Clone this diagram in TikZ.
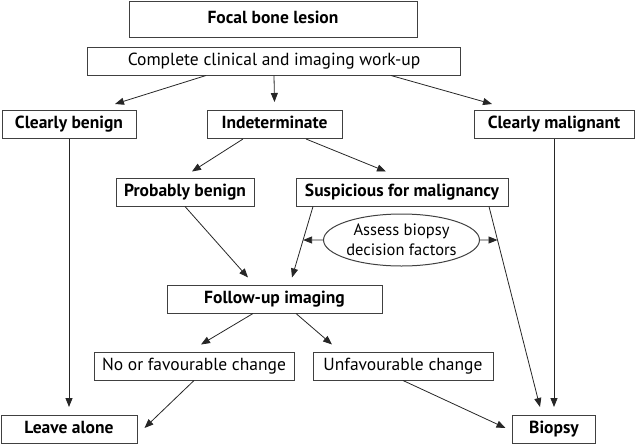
\documentclass[tikz,border=0pt]{standalone}
\usepackage{fontspec}
\setmainfont{PT Sans}
\usepackage{tikz}
\usetikzlibrary{arrows.meta,shapes.geometric}

\begin{document}
\begin{tikzpicture}[
  x=1pt, y=-1pt,
  mybox/.style={
    draw=black!75,
    line width=1pt,
    rectangle,
    inner sep=0pt,
    minimum height=28pt,
    text height=12pt,
    text depth=3.5pt,
    text centered,
    font=\fontsize{17.5}{20}\selectfont
    },
  myboldbox/.style={
    mybox,
    font=\fontsize{17.5}{20}\selectfont\bfseries
    },
  myarrow/.style={
    draw=black!85,
    line width=0.8pt,
    -{Triangle[length=9pt,width=7pt]}
    }
]
\useasboundingbox (0,0) rectangle (635,445);

\node[myboldbox, minimum width=288pt, minimum height=36pt] (focal) at (273,19) {Focal bone lesion};
\node[mybox, minimum width=373pt] (workup) at (274,61) {Complete clinical and imaging work-up};

\node[myboldbox, minimum width=134pt] (benign) at (69,124.5) {Clearly benign};
\node[myboldbox, minimum width=135pt] (indet) at (274.5,124.5) {Indeterminate};
\node[myboldbox, minimum width=160pt] (malig) at (554,124.5) {Clearly malignant};

\node[myboldbox, minimum width=138pt] (probben) at (185,192) {Probably benign};
\node[myboldbox, minimum width=212pt] (suspic) at (402,192) {Suspicious for malignancy};

\node[draw=black!75, line width=1pt, ellipse, inner sep=0pt,
  minimum width=143pt, minimum height=52pt, align=center,
  font=\fontsize{16.5}{20}\selectfont] (assess) at (401.5,240) {Assess biopsy\\decision factors};

\node[myboldbox, minimum width=215pt] (followup) at (274.5,299) {Follow-up imaging};

\node[mybox, minimum width=200pt] (nochange) at (194,366) {No or favourable change};
\node[mybox, minimum width=180pt] (unfav) at (403,366) {Unfavourable change};

\node[myboldbox, minimum width=136pt] (leave) at (69,429.5) {Leave alone};
\node[myboldbox, minimum width=83pt] (biopsy) at (554,429.5) {Biopsy};

% ends of the two lines leaving the suspicious box
\coordinate (s1) at ([xshift=-89pt]suspic.south);
\coordinate (f1) at ([xshift=17.5pt,yshift=7pt]followup.north);
\coordinate (s2) at ([xshift=87pt]suspic.south);
\coordinate (f2) at ([xshift=-14pt,yshift=8pt]biopsy.north);

\draw[myarrow] ([xshift=-68pt]workup.south) -- ([xshift=46pt,yshift=6pt]benign.north);
\draw[myarrow] (workup.south) -- ([yshift=8pt]indet.north);
\draw[myarrow] ([xshift=117pt]workup.south) -- ([xshift=-62pt,yshift=6pt]malig.north);

\draw[myarrow] (benign.south) -- ([yshift=8pt]leave.north);
\draw[myarrow] ([xshift=-31.5pt]indet.south) -- ([xshift=7pt,yshift=6pt]probben.north);
\draw[myarrow] ([xshift=31.5pt]indet.south) -- ([xshift=-16pt,yshift=6pt]suspic.north);
\draw[myarrow] (malig.south) -- ([yshift=8pt]biopsy.north);

\draw[myarrow] (probben.south) -- ([xshift=-26.5pt,yshift=7pt]followup.north);
\draw[myarrow] (s1) -- (f1);
\draw[myarrow] (s2) -- (f2);
\draw[myarrow] (assess.west) -- (intersection of s1--f1 and assess.west--assess.east);
\draw[myarrow] (assess.east) -- (intersection of s2--f2 and assess.west--assess.east);

\draw[myarrow] ([xshift=-21.5pt]followup.south) -- ([xshift=7pt,yshift=7pt]nochange.north);
\draw[myarrow] ([xshift=21.5pt]followup.south) -- ([xshift=-71pt,yshift=7pt]unfav.north);
\draw[myarrow] (nochange.south) -- ([xshift=7pt,yshift=1.5pt]leave.east);
\draw[myarrow] (unfav.south) -- ([xshift=-6.5pt,yshift=1.5pt]biopsy.west);
\end{tikzpicture}
\end{document}
